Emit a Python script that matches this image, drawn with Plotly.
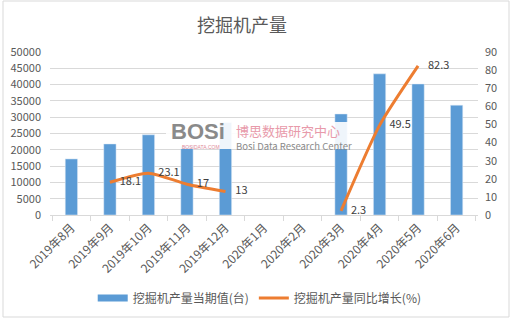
import plotly.graph_objects as go

categories = ["2019年8月", "2019年9月", "2019年10月", "2019年11月", "2019年12月",
              "2020年1月", "2020年2月", "2020年3月", "2020年4月", "2020年5月", "2020年6月"]
production = [17200, 21800, 24600, 21000, 28400, None, None, 31000, 43300, 40200, 33700]
growth = [None, 18.1, 23.1, 17, 13, None, None, 2.3, 49.5, 82.3, None]
growth_labels = ["" if v is None else "    " + ("%g" % v) for v in growth]

bar_name = "挖掘机产量当期值(台)"
line_name = "挖掘机产量同比增长(%)"
title_text = "挖掘机产量"

FONT = "Noto Sans CJK SC, Liberation Sans, sans-serif"
GREY = "#595959"
BLUE = "#5B9BD5"
ORANGE = "#ED7D31"

fig = go.Figure()
fig.add_trace(go.Bar(x=categories, y=production, name=bar_name, showlegend=False,
                     marker_color=BLUE, width=0.32, yaxis="y"))
# legend proxy for the bar series (wide swatch like the reference)
fig.add_trace(go.Scatter(x=[None], y=[None], name=bar_name, mode="lines",
                         line=dict(color=BLUE, width=7), yaxis="y"))
fig.add_trace(go.Scatter(x=categories, y=growth, name=line_name, yaxis="y2",
                         mode="lines+text", text=growth_labels,
                         textposition="middle right",
                         textfont=dict(size=11, color="#404040", family=FONT),
                         line=dict(color=ORANGE, width=3, shape="spline", smoothing=0.6),
                         connectgaps=False, cliponaxis=False))

fig.update_layout(
    width=512, height=319,
    margin=dict(l=50, r=34, t=52, b=104, autoexpand=False),
    paper_bgcolor="white", plot_bgcolor="white",
    font=dict(family=FONT, size=11, color=GREY),
    title=dict(text=title_text, x=242 / 512, xanchor="center", y=1 - 26 / 319, yanchor="middle",
               font=dict(size=18, color=GREY, family=FONT)),
    showlegend=True,
    legend=dict(orientation="h", x=0.49, xanchor="center", y=-0.509, yanchor="middle",
                font=dict(size=12, color=GREY, family=FONT), itemwidth=30,
                traceorder="normal"),
    bargap=0.6,
    xaxis=dict(type="category", tickangle=-45, showgrid=False, automargin=False,
               showline=True, linecolor="#d9d9d9", linewidth=1,
               ticks="outside", tickson="boundaries", ticklen=5, tickcolor="#d9d9d9",
               tickfont=dict(size=12, color=GREY)),
    yaxis=dict(range=[0, 50000], dtick=5000, tickformat="d", showgrid=True, gridcolor="#d9d9d9",
               zeroline=False, showline=False, tickfont=dict(size=11, color=GREY),
               ticks="", ticklabelstandoff=8, automargin=False),
    yaxis2=dict(range=[0, 90], dtick=10, overlaying="y", side="right", showgrid=False,
                zeroline=False, showline=False, tickfont=dict(size=11, color=GREY),
                ticks="", ticklabelstandoff=6, automargin=False),
)

# outer chart border
fig.add_shape(type="rect", xref="paper", yref="paper",
              x0=(3 - 50) / 428, x1=(509 - 50) / 428,
              y0=(215 - 317) / 163, y1=(215 - 1) / 163,
              line=dict(color="#d9d9d9", width=1), fillcolor="rgba(0,0,0,0)", layer="below")

# watermark
fig.add_shape(type="rect", xref="paper", yref="paper",
              x0=(166 - 50) / 428, x1=(350 - 50) / 428,
              y0=(215 - 149) / 163, y1=(215 - 122) / 163,
              line=dict(width=0), fillcolor="rgba(255,255,255,0.9)", layer="above")
fig.add_annotation(xref="paper", yref="paper", x=(169 - 50) / 428, y=(215 - 131) / 163,
                   xanchor="left", yanchor="middle", showarrow=False, text="<b>BOSi</b>",
                   font=dict(size=22, color="#8a8a8a", family="Liberation Sans"))
fig.add_annotation(xref="paper", yref="paper", x=(201 - 50) / 428, y=(215 - 147) / 163,
                   xanchor="center", yanchor="middle", showarrow=False, text="BOSIDATA.COM",
                   font=dict(size=5, color="#e08a9a", family="Liberation Sans"))
fig.add_annotation(xref="paper", yref="paper", x=(234 - 50) / 428, y=(215 - 130) / 163,
                   xanchor="left", yanchor="middle", showarrow=False, text="博思数据研究中心",
                   font=dict(size=13, color="#e89aaa", family=FONT))
fig.add_annotation(xref="paper", yref="paper", x=(234 - 50) / 428, y=(215 - 146) / 163,
                   xanchor="left", yanchor="middle", showarrow=False, text="Bosi Data Research Center",
                   font=dict(size=9.5, color="#8a8a8a", family=FONT))

fig.write_html("out.html")
